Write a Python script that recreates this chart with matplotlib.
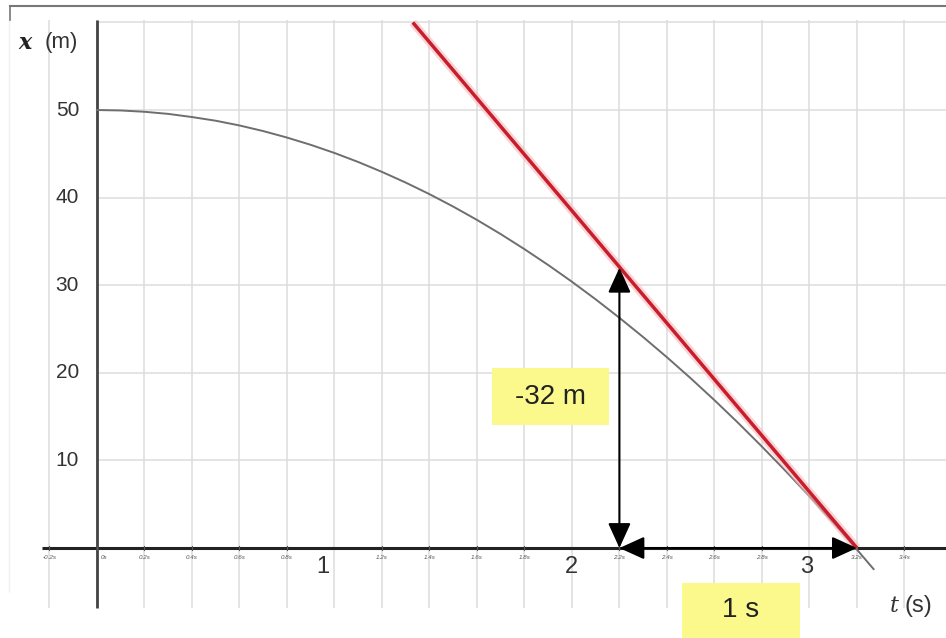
import matplotlib
matplotlib.use("Agg")
import matplotlib.pyplot as plt
from matplotlib.patches import FancyArrowPatch, Rectangle
from matplotlib.lines import Line2D

plt.rcParams['font.family'] = ['Liberation Sans', 'DejaVu Sans']

# ---- data ----
curve_t = [0.0, 0.1, 0.2, 0.3, 0.4, 0.5, 0.6, 0.7, 0.8, 0.9, 1.0, 1.1, 1.2, 1.3,
           1.4, 1.5, 1.6, 1.7, 1.8, 1.9, 2.0, 2.1, 2.2, 2.3, 2.4, 2.5, 2.6, 2.7,
           2.8, 2.9, 3.0, 3.1, 3.2, 3.27]
curve_x = [50.0, 49.95, 49.8, 49.56, 49.2, 48.78, 48.24, 47.6, 46.86, 46.03, 45.1,
           44.07, 42.94, 41.72, 40.4, 38.98, 37.46, 35.84, 34.12, 32.31, 30.4,
           28.39, 26.28, 24.08, 21.78, 19.38, 16.88, 14.28, 11.58, 8.79, 5.9,
           2.91, -0.18, -2.4]
tangent_t = [1.33, 3.2]
tangent_x = [60.0, 0.0]

y_ticks = [10, 20, 30, 40, 50]
big_x_ticks = [1, 2, 3]
big_x_pos = [0.95, 2.0, 2.99]
small_x_ticks = [-0.2, 0.0, 0.2, 0.4, 0.6, 0.8, 1.2, 1.4, 1.6, 1.8, 2.2, 2.4, 2.6, 2.8, 3.2, 3.4]
small_x_labels = ["-0.2s", "0s", "0.2s", "0.4s", "0.6s", "0.8s", "1.2s", "1.4s", "1.6s",
                  "1.8s", "2.2s", "2.4s", "2.6s", "2.8s", "3.2s", "3.4s"]
grid_t = [round(-0.2 + 0.2 * i, 1) for i in range(20)]
grid_x = [10, 20, 30, 40, 50, 60]

rise_t, rise_x0, rise_x1 = 2.2, 0.0, 32.0
run_x, run_t0, run_t1 = 0.0, 2.2, 3.2
rise_label, run_label = "-32 m", "1 s"

# ---- figure ----
fig = plt.figure(figsize=(9.46, 6.38), dpi=100)
ax = fig.add_axes([0, 0, 1, 1])
ax.set_xlim(-0.408, 3.575)
ax.set_ylim(-10.27, 62.56)
ax.axis("off")

ytop, ybot = 60.3, -6.8
grid_col = "#dcdcdc"
ax.vlines(grid_t, ybot, ytop, color=grid_col, lw=1.1, zorder=1)
ax.hlines(grid_x, 0, 3.575, color=grid_col, lw=1.1, zorder=1)
ax.vlines([-0.37], -5.0, 60.3, color="#f0f0f0", lw=1.0, zorder=1)

# axes
ax.plot([-0.23, 3.575], [0, 0], color="#222222", lw=2.2, zorder=3, solid_capstyle="butt")
ax.plot([0, 0], [ybot, ytop], color="#444444", lw=2.0, zorder=3, solid_capstyle="butt")

# tick labels
for v in y_ticks:
    ax.text(-0.075, v, str(v), ha="right", va="center", fontsize=15, color="#333333",
            zorder=4)
for v, p in zip(big_x_ticks, big_x_pos):
    ax.text(p, -0.9, str(v), ha="center", va="top", fontsize=17, color="#333333",
            zorder=4)
for v, s in zip(small_x_ticks, small_x_labels):
    ax.text(v + (0.03 if v == 0 else 0.0), -0.8, s, ha="center", va="top", fontsize=4.5,
            color="#555555", style="italic", zorder=4)
    ax.plot([v, v], [-0.25, 0.25], color="#555555", lw=0.8, zorder=4)

# axis titles
ax.text(-0.33, 57.7, "x", fontsize=16, style="italic", weight="bold",
        family="DejaVu Serif", ha="left", va="center", color="#222222")
ax.text(-0.22, 57.7, "(m)", fontsize=16, ha="left", va="center", color="#333333")
ax.text(3.34, -6.6, "t", fontsize=16, style="italic", family="DejaVu Serif",
        ha="left", va="center", color="#333333")
ax.text(3.4, -6.6, "(s)", fontsize=17, ha="left", va="center", color="#333333")

# curve
ax.plot(curve_t, curve_x, color="#6e6e6e", lw=1.4, zorder=5)

# tangent line with soft glow
ax.plot(tangent_t, tangent_x, color="#f7b8bd", lw=6, alpha=0.6, zorder=5,
        solid_capstyle="butt")
ax.plot(tangent_t, tangent_x, color="#c81e2b", lw=2.5, zorder=6, solid_capstyle="butt")

# arrows
for (p0, p1) in [((rise_t, rise_x0), (rise_t, rise_x1)), ((run_t0, run_x), (run_t1, run_x))]:
    arr = FancyArrowPatch(p0, p1, arrowstyle="<|-|>,head_length=11,head_width=5",
                          mutation_scale=1.4, color="black", lw=1.5, zorder=7,
                          shrinkA=0, shrinkB=0)
    ax.add_patch(arr)

# yellow label boxes
ax.add_patch(Rectangle((1.665, 14.0), 0.49, 6.5, facecolor="#fbf98c", edgecolor="none",
                       zorder=6))
ax.text(1.91, 17.25, rise_label, ha="center", va="center", fontsize=20, color="#222222",
        zorder=8)
ax.add_patch(Rectangle((2.463, -10.3), 0.497, 6.3, facecolor="#fbf98c", edgecolor="none",
                       zorder=6))
ax.text(2.712, -7.1, run_label, ha="center", va="center", fontsize=20, color="#222222",
        zorder=8)

# thin frame at top
fig.add_artist(Line2D([10 / 946, 1], [1 - 6 / 638, 1 - 6 / 638], color="#777777", lw=1.5,
                      transform=fig.transFigure))
fig.add_artist(Line2D([10 / 946, 10 / 946], [1 - 6 / 638, 1 - 20 / 638], color="#777777",
                      lw=1.2, transform=fig.transFigure))

fig.savefig("out.png", dpi=100, facecolor="white")
